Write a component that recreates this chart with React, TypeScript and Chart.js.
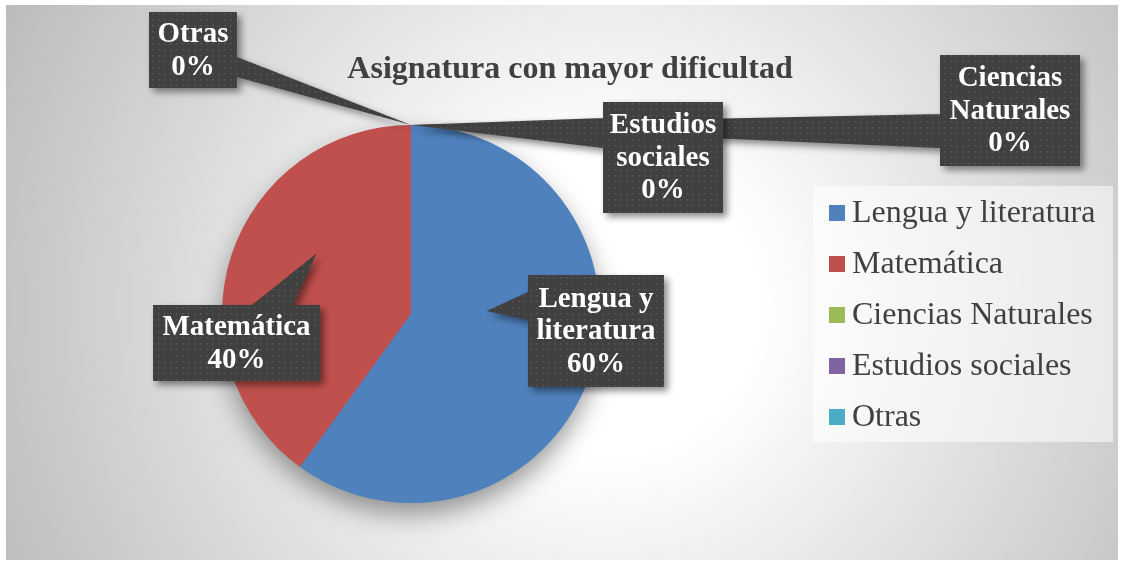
import React, { useEffect, useRef } from "react";
import { Chart, registerables } from "chart.js";

Chart.register(...registerables);

const categories = ["Lengua y literatura", "Matemática", "Ciencias Naturales", "Estudios sociales", "Otras"];
const values = [60, 40, 0, 0, 0];
const percentLabels = ["60%", "40%", "0%", "0%", "0%"];
const calloutNames = [["Lengua y", "literatura"], ["Matemática"], ["Ciencias", "Naturales"], ["Estudios", "sociales"], ["Otras"]];
const colors = ["#4F81BD", "#C0504D", "#9BBB59", "#8064A2", "#4BACC6"];
const chartTitle = "Asignatura con mayor dificultad";

// Callout geometry (layout only): box in canvas px, wedge base points, tip as offset in radius units (null = arc start point)
const calloutLayout = [
  { x: 522, y: 270, w: 136, h: 112, base: [[522, 287], [522, 315]], tip: [0.4, -0.016] },
  { x: 147, y: 300, w: 167, h: 76, base: [[246, 300], [287, 300]], tip: [-0.5, -0.32] },
  { x: 934, y: 50, w: 140, h: 111, base: [[934, 109], [934, 143]], tip: null },
  { x: 597, y: 97, w: 120, h: 111, base: [[597, 113], [597, 143]], tip: null },
  { x: 143, y: 7, w: 88, h: 76, base: [[231, 52], [231, 72]], tip: null },
];

const SERIF = '"Liberation Serif", "Times New Roman", serif';

function makePattern(ctx: CanvasRenderingContext2D) {
  const c = document.createElement("canvas");
  c.width = 6;
  c.height = 6;
  const p = c.getContext("2d")!;
  p.fillStyle = "#404040";
  p.fillRect(0, 0, 6, 6);
  p.fillStyle = "#585858";
  p.fillRect(2, 2, 1.5, 1.5);
  return ctx.createPattern(c, "repeat");
}

const decorPlugin = {
  id: "decor",
  beforeDraw(chart: any) {
    const { ctx, width, height } = chart;
    ctx.save();
    const g = ctx.createRadialGradient(600, 300, 0, 600, 300, 680);
    g.addColorStop(0, "#ffffff");
    g.addColorStop(0.22, "#ffffff");
    g.addColorStop(1, "#bababa");
    ctx.fillStyle = g;
    ctx.fillRect(0, 0, width, height);
    ctx.restore();
  },
  beforeDatasetsDraw(chart: any) {
    const arc = chart.getDatasetMeta(0).data[0];
    if (!arc) return;
    const { ctx } = chart;
    ctx.save();
    ctx.shadowColor = "rgba(0,0,0,0.4)";
    ctx.shadowBlur = 26;
    ctx.shadowOffsetY = 12;
    ctx.fillStyle = "#4F81BD";
    ctx.beginPath();
    ctx.arc(arc.x, arc.y, arc.outerRadius - 1, 0, Math.PI * 2);
    ctx.fill();
    ctx.restore();
  },
  afterDatasetsDraw(chart: any) {
    const { ctx } = chart;
    const meta = chart.getDatasetMeta(0);
    const pattern = makePattern(ctx);

    const order = [2, 3, 4, 1, 0];
    order.forEach((i) => {
      const el = meta.data[i];
      const L = calloutLayout[i];
      const r = el.outerRadius;
      let tx: number, ty: number;
      if (L.tip) {
        tx = el.x + L.tip[0] * r;
        ty = el.y + L.tip[1] * r;
      } else {
        tx = el.x + r * Math.cos(el.startAngle);
        ty = el.y + r * Math.sin(el.startAngle);
      }
      let [b1, b2] = L.base;
      const cross = (b2[0] - b1[0]) * (ty - b1[1]) - (b2[1] - b1[1]) * (tx - b1[0]);
      if (cross < 0) [b1, b2] = [b2, b1];
      ctx.save();
      ctx.beginPath();
      ctx.rect(L.x, L.y, L.w, L.h);
      ctx.moveTo(b1[0], b1[1]);
      ctx.lineTo(b2[0], b2[1]);
      ctx.lineTo(tx, ty);
      ctx.closePath();
      ctx.shadowColor = "rgba(0,0,0,0.45)";
      ctx.shadowBlur = 7;
      ctx.shadowOffsetX = 4;
      ctx.shadowOffsetY = 4;
      ctx.fillStyle = pattern || "#404040";
      ctx.fill("nonzero");
      ctx.restore();

      const lines = [...calloutNames[i], percentLabels[i]];
      const lh = 32.5;
      ctx.save();
      ctx.fillStyle = "#ffffff";
      ctx.font = `bold 29px ${SERIF}`;
      ctx.textAlign = "center";
      ctx.textBaseline = "middle";
      const cx = L.x + L.w / 2;
      const cy = L.y + L.h / 2;
      lines.forEach((t, k) => {
        ctx.fillText(t, cx, cy + (k - (lines.length - 1) / 2) * lh + 1);
      });
      ctx.restore();
    });
  },
  afterDraw(chart: any) {
    const { ctx } = chart;
    ctx.save();
    ctx.fillStyle = "#404040";
    ctx.font = `bold 32px ${SERIF}`;
    ctx.textAlign = "center";
    ctx.textBaseline = "middle";
    ctx.fillText(chartTitle, 564, 65);
    ctx.restore();

    ctx.save();
    ctx.fillStyle = "rgba(255,255,255,0.55)";
    ctx.fillRect(807, 181, 300, 256);
    categories.forEach((name, i) => {
      const cy = 208 + i * 51;
      ctx.fillStyle = colors[i];
      ctx.fillRect(823, cy - 8, 16, 16);
      ctx.fillStyle = "#404040";
      ctx.font = `32px ${SERIF}`;
      ctx.textAlign = "left";
      ctx.textBaseline = "middle";
      ctx.fillText(name, 846, cy + 1);
    });
    ctx.restore();
  },
};

export default function App() {
  const ref = useRef<HTMLCanvasElement>(null);
  useEffect(() => {
    if (!ref.current) return;
    const chart = new Chart(ref.current, {
      type: "pie",
      data: {
        labels: categories,
        datasets: [
          {
            data: values,
            backgroundColor: colors,
            borderWidth: 0,
          },
        ],
      },
      options: {
        animation: false,
        responsive: true,
        maintainAspectRatio: false,
        layout: { padding: { top: 120, bottom: 57, left: 216, right: 518 } },
        plugins: {
          legend: { display: false },
          title: { display: false },
          tooltip: { enabled: false },
        },
      },
      plugins: [decorPlugin],
    });
    return () => chart.destroy();
  }, []);
  return (
    <div style={{ position: "absolute", left: 6, top: 5, width: 1112, height: 555 }}>
      <canvas ref={ref} />
    </div>
  );
}
